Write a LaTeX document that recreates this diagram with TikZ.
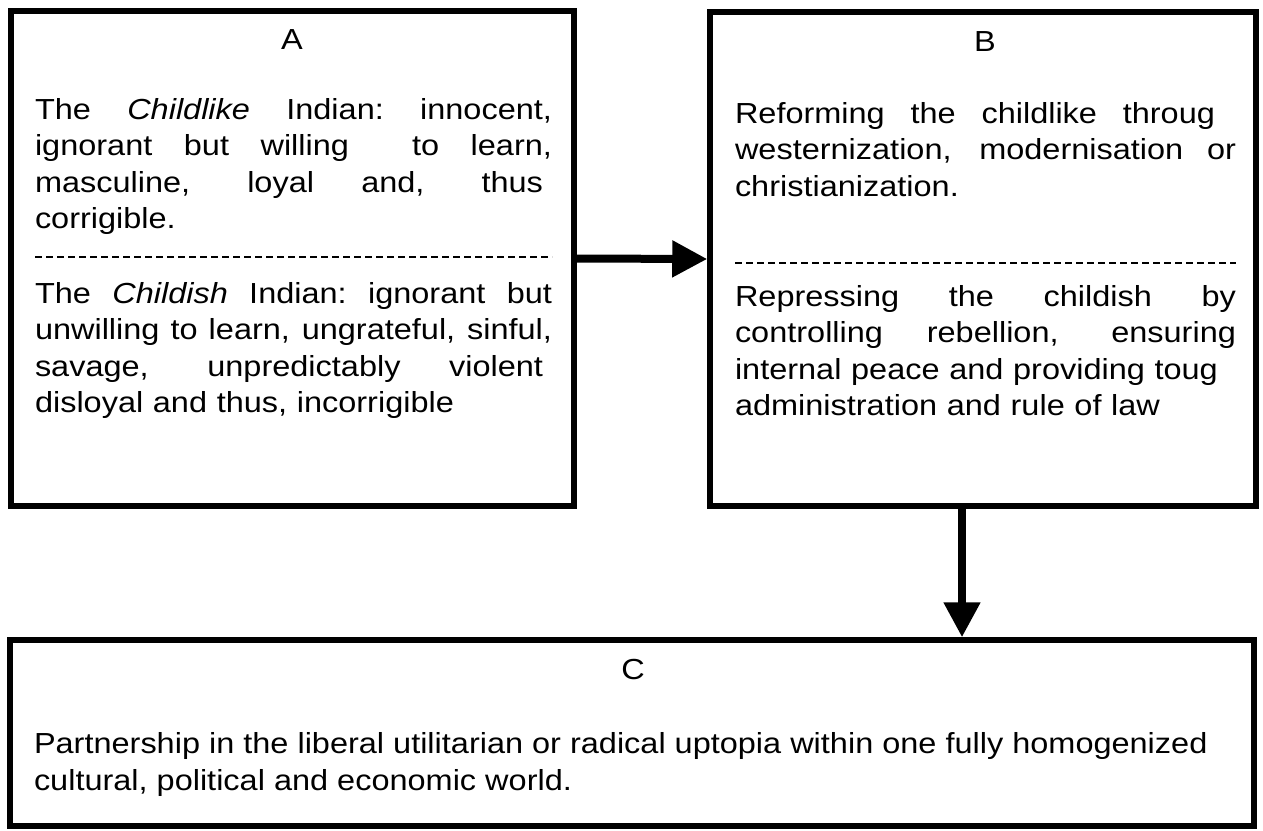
\documentclass[tikz,border=0pt]{standalone}
\usepackage{fontspec}
\setmainfont{Liberation Sans}[FakeStretch=1.12]
\usetikzlibrary{arrows.meta}
\newcommand\jline[2]{\leavevmode\hbox to #1{\spaceskip=0.28em plus 1fil\relax\xspaceskip=\spaceskip #2}}
\begin{document}
\begin{tikzpicture}[x=1pt,y=-1pt,
  box/.style={draw, line width=5.5pt, inner sep=0pt, outer sep=2.75pt},
  txt/.style={font=\fontsize{29}{36.5}\selectfont, inner sep=0pt, outer sep=0pt, anchor=base west, align=left},
  lbl/.style={font=\fontsize{29}{36.5}\selectfont, inner sep=0pt, anchor=base},
  sepline/.style={line width=2.5pt, dash pattern=on 7pt off 4pt},
  conn/.style={line width=8pt, -{Triangle[length=35pt,width=35pt]}}]
\useasboundingbox (0,0) rectangle (1263,830);
% boxes
\node[box, minimum width=563pt, minimum height=495pt] (A) at (292.5,258.5) {};
\node[box, minimum width=546pt, minimum height=494pt] (B) at (983,259) {};
\node[box, minimum width=1244pt, minimum height=186pt] (C) at (632,733) {};
% box A
\node[lbl] (Alab) at (292,49) {A};
\node[txt, text width=517pt] (A1) at (35,119) {%
\jline{517pt}{The \textit{Childlike} Indian: innocent,}\\
\jline{517pt}{ignorant but willing\ \ to learn,}\\
\jline{508pt}{masculine, loyal and, thus}\\
corrigible.};
\draw[sepline] (35,257) -- (552,257);
\node[txt, text width=517pt] (A2) at (35,303) {%
\jline{517pt}{The \textit{Childish} Indian: ignorant but}\\
\jline{517pt}{unwilling to learn, ungrateful, sinful,}\\
\jline{508pt}{savage, unpredictably violent}\\
disloyal and thus, incorrigible};
% box B
\node[lbl] (Blab) at (985,51) {B};
\node[txt, text width=501pt] (B1) at (735,123) {%
\jline{480pt}{Reforming the childlike throug}\\
\jline{501pt}{westernization, modernisation or}\\
christianization.};
\draw[sepline] (735,263) -- (1236,263);
\node[txt, text width=501pt] (B2) at (735,306) {%
\jline{501pt}{Repressing the childish by}\\
\jline{501pt}{controlling rebellion, ensuring}\\
internal peace and providing toug\\
administration and rule of law};
% box C
\node[lbl] (Clab) at (633,679) {C};
\node[txt] (C1) at (34,790) {Partnership in the liberal utilitarian or radical uptopia within one fully homogenized\\
cultural, political and economic world.};
% connectors
\draw[conn] (A.east) -- (B.west);
\draw[conn] ([xshift=-21pt]B.south) -- ([xshift=-21pt]B.south |- C.north);
\end{tikzpicture}
\end{document}
